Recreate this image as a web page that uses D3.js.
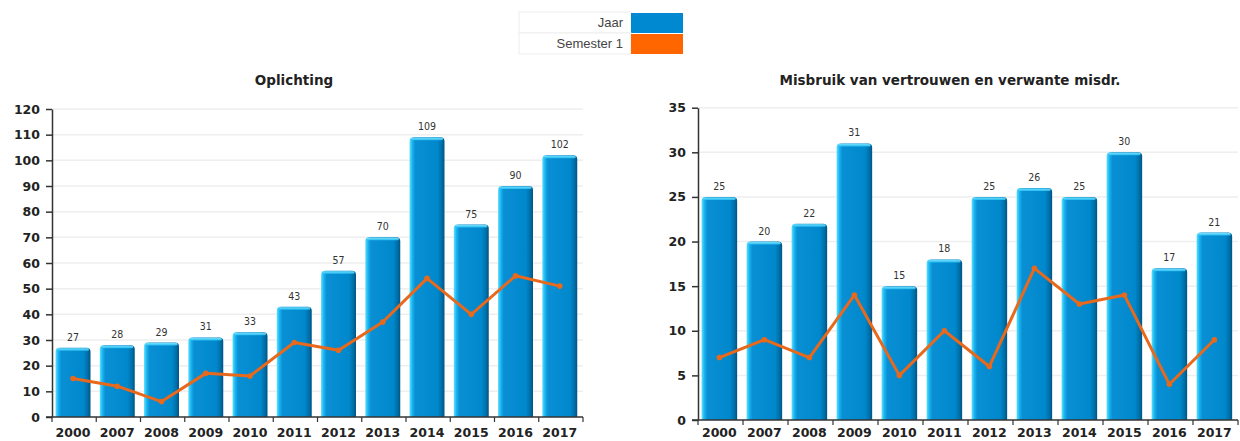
<!DOCTYPE html>
<html><head><meta charset="utf-8">
<script src="https://cdn.jsdelivr.net/npm/d3@7"></script>
<style>body{margin:0;background:#fff}svg{display:block}</style>
</head><body>
<svg id="c" width="1240" height="441"></svg>
<script>
const years = ["2000","2007","2008","2009","2010","2011","2012","2013","2014","2015","2016","2017"];
const oplichtingJaar = [27,28,29,31,33,43,57,70,109,75,90,102];
const oplichtingSem1 = [15,12,6,17,16,29,26,37,54,40,55,51];
const misbruikJaar = [25,20,22,31,15,18,25,26,25,30,17,21];
const misbruikSem1 = [7,9,7,14,5,10,6,17,13,14,4,9];
const oplichtingTicks = [0,10,20,30,40,50,60,70,80,90,100,110,120];
const misbruikTicks = [0,5,10,15,20,25,30,35];
const legendLabels = ["Jaar","Semester 1"];

const svg = d3.select("#c");
const defs = svg.append("defs");
const g1 = defs.append("linearGradient").attr("id","barGrad").attr("x1","0").attr("x2","1").attr("y1","0").attr("y2","0");
[["0%","#5fe0ff"],["8%","#18b4f0"],["16%","#0a8fd4"],["80%","#0088cc"],["92%","#006fa8"],["100%","#005485"]]
  .forEach(([o,c])=>g1.append("stop").attr("offset",o).attr("stop-color",c));
const g2 = defs.append("linearGradient").attr("id","topGrad").attr("x1","0").attr("x2","0").attr("y1","0").attr("y2","1");
[["0%","#7fe8ff"],["100%","#2bc0f5"]].forEach(([o,c])=>g2.append("stop").attr("offset",o).attr("stop-color",c));

// Legend
const lg = svg.append("g");
legendLabels.forEach((l,i)=>{
  const y0 = 12 + i*21;
  lg.append("rect").attr("x",519).attr("y",y0).attr("width",112).attr("height",21)
    .attr("fill","#fff").attr("stroke","#eee").attr("stroke-width",1);
  lg.append("text").attr("x",623).attr("y",y0+15).attr("text-anchor","end")
    .attr("font-family","Liberation Sans, Arial, sans-serif").attr("font-size",13).attr("fill","#444").text(l);
  lg.append("rect").attr("x",631).attr("y",y0+1).attr("width",52).attr("height",20)
    .attr("fill", i===0 ? "#0088d1" : "#ff6600");
});

function drawChart(opt){
  const {x0,x1,yTop,yBot,max,ticks,jaar,sem,title,titleX} = opt;
  const g = svg.append("g");
  const x = d3.scaleBand().domain(years).range([x0,x1]).padding(0);
  const y = d3.scaleLinear().domain([0,max]).range([yBot,yTop]);
  // grid
  g.selectAll(".grid").data(ticks.filter(t=>t>0)).join("line")
    .attr("x1",x0+1).attr("x2",x1).attr("y1",d=>y(d)).attr("y2",d=>y(d))
    .attr("stroke","#eeeeee").attr("stroke-width",1.5);
  // title
  g.append("text").attr("x",titleX).attr("y",85).attr("text-anchor","middle")
    .attr("font-family","DejaVu Sans, sans-serif").attr("font-weight","bold").attr("font-size",13.5)
    .attr("fill","#222").text(title);
  // bars
  const bw = x.bandwidth()*0.79, off = x.bandwidth()*0.08;
  const bars = g.selectAll(".bar").data(jaar).join("g");
  bars.append("path").attr("d",(d,i)=>{
      const bx = x(years[i])+off, by = y(d), r=4;
      return `M${bx},${yBot} V${by+r} Q${bx},${by} ${bx+r},${by} H${bx+bw-r} Q${bx+bw},${by} ${bx+bw},${by+r} V${yBot} Z`;
    }).attr("fill","url(#barGrad)");
  bars.append("rect").attr("x",(d,i)=>x(years[i])+off+1.5).attr("y",d=>y(d)+0.5)
    .attr("width",bw-3).attr("height",2.5).attr("rx",1.2).attr("fill","url(#topGrad)").attr("opacity",0.9);
  // value labels
  g.selectAll(".val").data(jaar).join("text")
    .attr("x",(d,i)=>x(years[i])+off+bw/2).attr("y",d=>y(d)-7)
    .attr("text-anchor","middle").attr("font-family","DejaVu Sans Condensed, DejaVu Sans, sans-serif").attr("font-size",10.5)
    .attr("fill","#333").text(d=>d);
  // line
  const line = d3.line().x((d,i)=>x(years[i])+off+bw/2).y(d=>y(d));
  g.append("path").datum(sem).attr("d",line).attr("fill","none")
    .attr("stroke","#e8691c").attr("stroke-width",3).attr("stroke-linejoin","round");
  g.selectAll(".pt").data(sem).join("circle")
    .attr("cx",(d,i)=>x(years[i])+off+bw/2).attr("cy",d=>y(d)).attr("r",2.8).attr("fill","#e8691c");
  // y axis
  const ya = g.append("g").attr("transform",`translate(${x0},0)`)
    .call(d3.axisLeft(y).tickValues(ticks).tickSize(6).tickSizeOuter(0).tickPadding(6));
  ya.select(".domain").attr("stroke","#333").attr("stroke-width",1.5);
  ya.selectAll(".tick line").attr("stroke","#333").attr("stroke-width",1.5);
  ya.selectAll("text").attr("font-family","DejaVu Sans, sans-serif").attr("font-weight","bold")
    .attr("font-size",12.5).attr("fill","#222");
  // x axis line + ticks at band edges
  g.append("line").attr("x1",x0-6).attr("x2",x1).attr("y1",yBot).attr("y2",yBot)
    .attr("stroke","#333").attr("stroke-width",1.5);
  const edges = years.map(yr=>x(yr)).concat([x1]);
  g.selectAll(".xt").data(edges).join("line")
    .attr("x1",d=>d).attr("x2",d=>d).attr("y1",yBot).attr("y2",yBot+5)
    .attr("stroke","#333").attr("stroke-width",1.2);
  g.selectAll(".xl").data(years).join("text")
    .attr("x",d=>x(d)+off+bw/2).attr("y",437).attr("text-anchor","middle")
    .attr("font-family","DejaVu Sans, sans-serif").attr("font-weight","bold").attr("font-size",12.5)
    .attr("fill","#222").text(d=>d);
}

drawChart({x0:52,x1:583,yTop:109,yBot:417,max:120,ticks:oplichtingTicks,
  jaar:oplichtingJaar,sem:oplichtingSem1,title:"Oplichting",titleX:294});
drawChart({x0:698,x1:1238,yTop:107.7,yBot:420,max:35,ticks:misbruikTicks,
  jaar:misbruikJaar,sem:misbruikSem1,title:"Misbruik van vertrouwen en verwante misdr.",titleX:950});
</script>
</body></html>
